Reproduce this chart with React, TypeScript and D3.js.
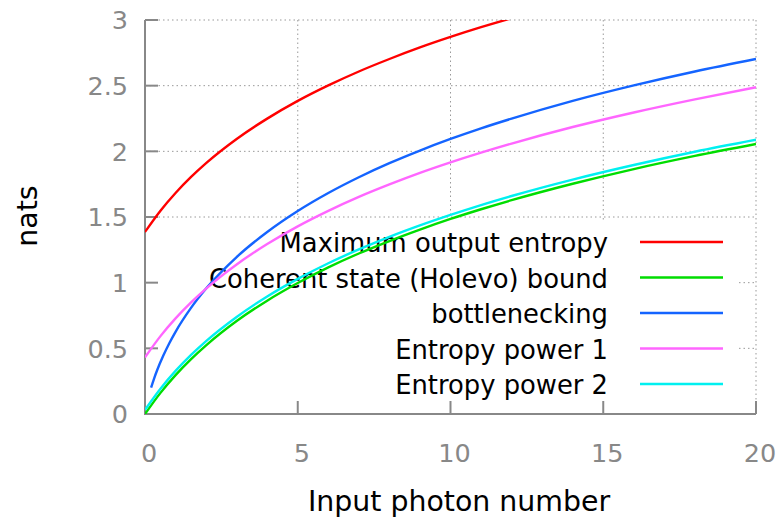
import React, { useRef, useEffect } from "react";
import * as d3 from "d3";

// input photon numbers shared by most curves
const photons = [0, 0.5, 1, 1.5, 2, 3, 4, 5, 6, 7, 8, 9, 10, 11, 12, 14, 16, 18, 20];

const maxEntropy = [1.386, 1.546, 1.683, 1.803, 1.91, 2.094, 2.249, 2.384, 2.502, 2.608, 2.703, 2.791, 2.871, 2.945, 3.014, 3.14, 3.251, 3.351, 3.443];
const holevo = [0, 0.159, 0.296, 0.416, 0.523, 0.708, 0.863, 0.997, 1.116, 1.222, 1.317, 1.404, 1.485, 1.559, 1.628, 1.753, 1.865, 1.965, 2.056];
const entropyPower1 = [0.431, 0.591, 0.728, 0.848, 0.955, 1.139, 1.294, 1.429, 1.547, 1.653, 1.748, 1.836, 1.916, 1.99, 2.059, 2.185, 2.296, 2.396, 2.488];
const entropyPower2 = [0.032, 0.191, 0.328, 0.448, 0.555, 0.739, 0.895, 1.029, 1.148, 1.253, 1.349, 1.436, 1.516, 1.591, 1.66, 1.785, 1.896, 1.997, 2.088];

// bottlenecking curve starts a little right of zero
const bottleneckPhotons = [0.2, 0.3, 0.4, 0.6, 0.8, 1, 1.5, 2, 3, 4, 5, 6, 7, 8, 9, 10, 11, 12, 14, 16, 18, 20];
const bottleneck = [0.201, 0.272, 0.335, 0.445, 0.541, 0.626, 0.806, 0.955, 1.195, 1.386, 1.546, 1.683, 1.803, 1.91, 2.006, 2.094, 2.175, 2.249, 2.384, 2.502, 2.608, 2.703];

const xTicks = [0, 5, 10, 15, 20];
const yTicks = [0, 0.5, 1, 1.5, 2, 2.5, 3];

const series = [
  { label: "Maximum output entropy", xs: photons, ys: maxEntropy, color: "#ff0000" },
  { label: "Coherent state (Holevo) bound", xs: photons, ys: holevo, color: "#00dd00" },
  { label: "bottlenecking", xs: bottleneckPhotons, ys: bottleneck, color: "#1464ff" },
  { label: "Entropy power 1", xs: photons, ys: entropyPower1, color: "#ff66ff" },
  { label: "Entropy power 2", xs: photons, ys: entropyPower2, color: "#00f0f0" },
];

const width = 780;
const height = 523;
const font = "'DejaVu Sans', sans-serif";

const App = () => {
  const ref = useRef<SVGSVGElement>(null);

  useEffect(() => {
    const margin = { top: 20, right: 24, bottom: 109, left: 145 };
    const svg = d3.select(ref.current);
    svg.selectAll("*").remove();

    const x = d3
      .scaleLinear()
      .domain([0, 20])
      .range([margin.left, width - margin.right]);

    const y = d3
      .scaleLinear()
      .domain([0, 3])
      .range([height - margin.bottom, margin.top]);

    const gridColor = "#999";
    const axisColor = "#888";
    const keyTop = 222;
    const keyRight = 737;

    // Grid
    const grid = svg.append("g").attr("stroke", gridColor).attr("stroke-width", 1).attr("stroke-dasharray", "1.5,3");
    grid
      .selectAll("line.gy")
      .data(yTicks.filter((d) => d > 0))
      .join("line")
      .attr("x1", x(0))
      .attr("x2", x(20))
      .attr("y1", (d) => y(d))
      .attr("y2", (d) => y(d));
    grid
      .selectAll("line.gx")
      .data(xTicks.filter((d) => d > 0))
      .join("line")
      .attr("x1", (d) => x(d))
      .attr("x2", (d) => x(d))
      .attr("y1", y(3))
      .attr("y2", y(0));

    // opaque key box hides the grid behind it
    svg
      .append("rect")
      .attr("x", x(0))
      .attr("y", keyTop)
      .attr("width", keyRight - x(0))
      .attr("height", y(0) - keyTop - 1)
      .attr("fill", "#fff");

    // Axes
    const axes = svg.append("g").attr("stroke", axisColor).attr("stroke-width", 2).attr("fill", "none");
    axes.append("path").attr("d", `M${x(0)},${y(3)}V${y(0)}H${x(20)}`);
    axes
      .selectAll("line.ty")
      .data(yTicks)
      .join("line")
      .attr("x1", x(0))
      .attr("x2", x(0) + 13)
      .attr("y1", (d) => y(d))
      .attr("y2", (d) => y(d));
    axes
      .selectAll("line.tx")
      .data(xTicks)
      .join("line")
      .attr("x1", (d) => x(d))
      .attr("x2", (d) => x(d))
      .attr("y1", y(0))
      .attr("y2", y(0) - 13);

    // Tick labels
    svg
      .append("g")
      .selectAll("text")
      .data(yTicks)
      .join("text")
      .attr("x", x(0) - 17)
      .attr("y", (d) => y(d) + 9.3)
      .attr("text-anchor", "end")
      .attr("fill", axisColor)
      .attr("font-family", font)
      .attr("font-size", 25.5)
      .text((d) => String(d));
    svg
      .append("g")
      .selectAll("text")
      .data(xTicks)
      .join("text")
      .attr("x", (d) => x(d) + 4)
      .attr("y", 462)
      .attr("text-anchor", "middle")
      .attr("fill", axisColor)
      .attr("font-family", font)
      .attr("font-size", 25.5)
      .text((d) => String(d));

    // Axis titles
    svg
      .append("text")
      .attr("x", 459)
      .attr("y", 511)
      .attr("text-anchor", "middle")
      .attr("font-family", font)
      .attr("font-size", 28.4)
      .text("Input photon number");
    svg
      .append("text")
      .attr("transform", "translate(37,216) rotate(-90)")
      .attr("text-anchor", "middle")
      .attr("font-family", font)
      .attr("font-size", 28.4)
      .text("nats");

    // Legend
    const key = svg.append("g");
    const rowY = (i) => 242 + i * 35.5;
    key
      .selectAll("text")
      .data(series)
      .join("text")
      .attr("x", 608)
      .attr("y", (d, i) => rowY(i) + 10)
      .attr("text-anchor", "end")
      .attr("font-family", font)
      .attr("font-size", 25.8)
      .text((d) => d.label);
    key
      .selectAll("line")
      .data(series)
      .join("line")
      .attr("x1", 640)
      .attr("x2", 723)
      .attr("y1", (d, i) => rowY(i))
      .attr("y2", (d, i) => rowY(i))
      .attr("stroke", (d) => d.color)
      .attr("stroke-width", 2.4);

    // Curves
    svg
      .append("clipPath")
      .attr("id", "plot-clip")
      .append("rect")
      .attr("x", x(0))
      .attr("y", y(3))
      .attr("width", x(20) - x(0))
      .attr("height", y(0) - y(3));

    const line = d3
      .line<[number, number]>()
      .x((d) => x(d[0]))
      .y((d) => y(d[1]))
      .curve(d3.curveMonotoneX);

    svg
      .append("g")
      .attr("clip-path", "url(#plot-clip)")
      .selectAll("path")
      .data(series)
      .join("path")
      .attr("d", (s) => line(s.xs.map((v, i) => [v, s.ys[i]] as [number, number])))
      .attr("fill", "none")
      .attr("stroke", (s) => s.color)
      .attr("stroke-width", 2.4);
  }, []);

  return (
    <svg
      ref={ref}
      width={width}
      height={height}
      style={{ position: "absolute", left: 0, top: 0, background: "#fff" }}
    />
  );
};

export default App;
